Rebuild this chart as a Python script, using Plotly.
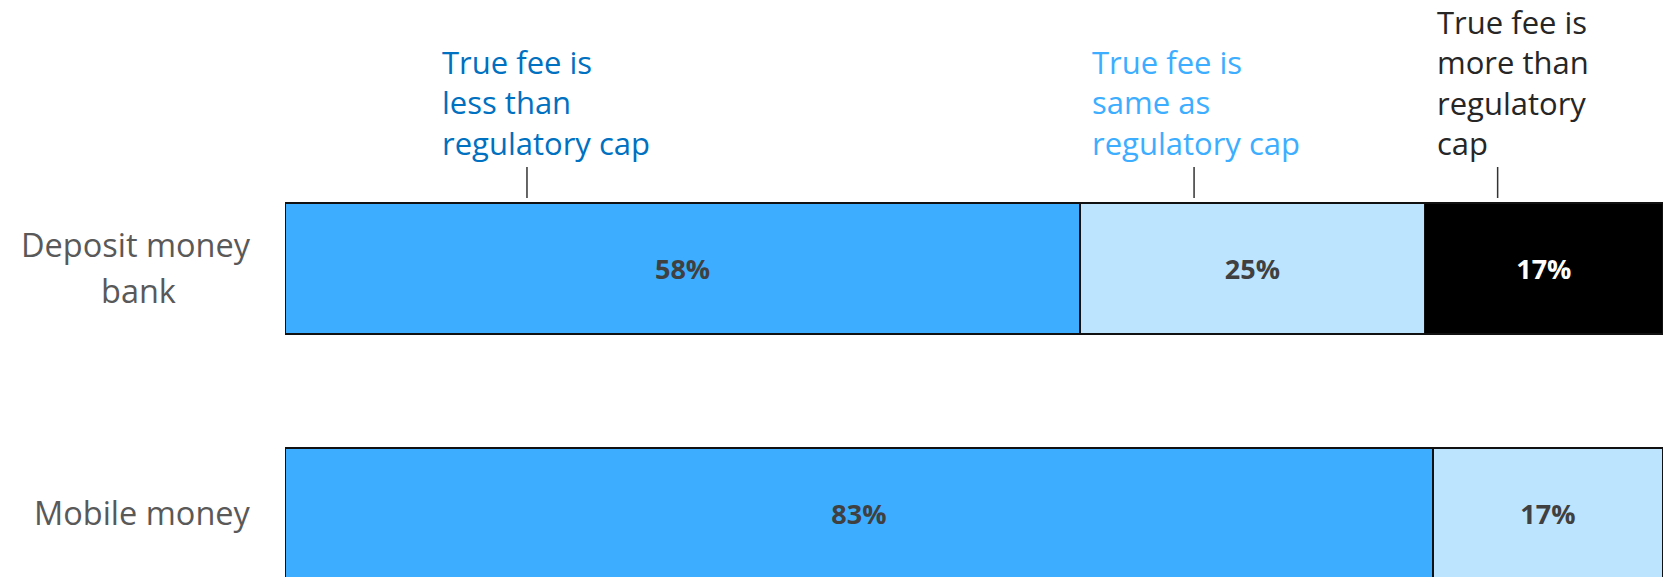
import plotly.graph_objects as go

# ---- data ----
categories = ["Deposit money bank", "Mobile money"]
category_lines = [["Deposit money", "bank"], ["Mobile money"]]
series_names = ["True fee is less than regulatory cap",
                "True fee is same as regulatory cap",
                "True fee is more than regulatory cap"]
less_than = [57.7, 83.3]
same_as = [25.0, 16.7]
more_than = [17.3, None]
annotation_texts = ["True fee is<br>less than<br>regulatory cap",
                    "True fee is<br>same as<br>regulatory cap",
                    "True fee is<br>more than<br>regulatory<br>cap"]

# ---- styles ----
W, H = 1670, 577
L, R = 285, 1663
FONT = "Open Sans"
bar_colors = ["#3DAEFF", "#BDE4FF", "#000000"]
label_colors = ["#404040", "#404040", "#FFFFFF"]
ann_colors = ["#0070C0", "#3DAEFF", "#262626"]
ann_x = [11.22, 58.45, 83.42]     # left edge of each callout text (x units)
tick_x = [17.56, 65.97, 88.0]     # callout leader positions (x units)

fig = go.Figure()
for name, vals, col, tcol in zip(series_names, [less_than, same_as, more_than],
                                 bar_colors, label_colors):
    fig.add_trace(go.Bar(
        y=categories, x=[v if v is not None else 0 for v in vals],
        orientation="h", name=name,
        marker=dict(color=col, line=dict(color="#111111", width=1.6)),
        text=[f"{round(v)}%" if v else "" for v in vals],
        textposition="inside", insidetextanchor="middle", textangle=0,
        textfont=dict(family=FONT, size=27, color=tcol, weight="bold"),
        width=0.535, hoverinfo="skip", showlegend=False,
    ))

px_per_unit = 245.0
center0 = 268.6
y_top = -center0 / px_per_unit
y_bot = y_top + H / px_per_unit

def py(pix):
    return 1 - pix / H

def pxp(pix):
    return (pix - L) / (R - L)

annotations = []
# callout labels above bars
for txt, x, col in zip(annotation_texts, ann_x, ann_colors):
    annotations.append(dict(
        text=txt, x=x, xref="x", y=py(166), yref="paper",
        xanchor="left", yanchor="bottom", align="left", showarrow=False,
        font=dict(family=FONT, size=31, color=col),
    ))
# category labels
line_gap = 46
for i, lines in enumerate(category_lines):
    c = center0 + i * px_per_unit
    n = len(lines)
    for j, ln in enumerate(lines):
        ypix = c + (j - (n - 1) / 2) * line_gap - 1
        if j == 0:
            annotations.append(dict(
                text=ln, x=pxp(253), xref="paper", y=py(ypix), yref="paper",
                xanchor="right", yanchor="middle", showarrow=False,
                font=dict(family=FONT, size=32.5, color="#595959")))
        else:
            annotations.append(dict(
                text=ln, x=pxp(138), xref="paper", y=py(ypix), yref="paper",
                xanchor="center", yanchor="middle", showarrow=False,
                font=dict(family=FONT, size=32.5, color="#595959")))

shapes = [dict(type="line", xref="x", yref="paper", x0=tx, x1=tx,
               y0=py(167), y1=py(198), line=dict(color="#333333", width=1.5))
          for tx in tick_x]

fig.update_layout(
    width=W, height=H,
    margin=dict(l=L, r=W - R, t=0, b=0),
    barmode="stack",
    plot_bgcolor="white", paper_bgcolor="white",
    xaxis=dict(range=[0, 100], visible=False, fixedrange=True),
    yaxis=dict(type="category", categoryorder="array", categoryarray=categories,
               range=[y_bot, y_top], visible=False, fixedrange=True),
    annotations=annotations, shapes=shapes,
    font=dict(family=FONT),
)

fig.write_html("out.html", config={"displayModeBar": False},
               post_script="document.body.style.margin='0';document.body.style.padding='0';")
